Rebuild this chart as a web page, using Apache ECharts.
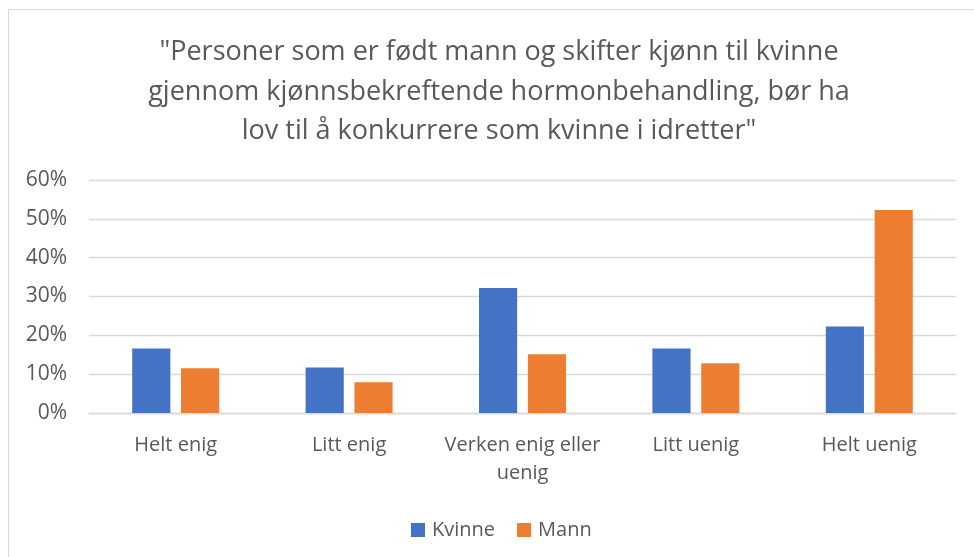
<!DOCTYPE html>
<html><head><meta charset="utf-8">
<script src="https://cdn.jsdelivr.net/npm/echarts@6/dist/echarts.min.js"></script>
<style>html,body{margin:0;padding:0;background:#fff}#c{width:974px;height:557px}</style>
</head><body><div id="c"></div>
<script>
const categories = ["Helt enig", "Litt enig", "Verken enig eller\nuenig", "Litt uenig", "Helt uenig"];
const kvinne = [0.166, 0.117, 0.322, 0.166, 0.223];
const mann = [0.115, 0.079, 0.151, 0.128, 0.523];
const seriesNames = ["Kvinne", "Mann"];
const titleText = "\"Personer som er født mann og skifter kjønn til kvinne\ngjennom kjønnsbekreftende hormonbehandling, bør ha\nlov til å konkurrere som kvinne i idretter\"";
const FONT = "Open Sans";
const chart = echarts.init(document.getElementById('c'), null, {renderer: 'canvas'});
chart.setOption({
  animation: false,
  backgroundColor: '#fff',
  graphic: [{type: 'rect', shape: {x: 8.5, y: 9.5, width: 1000, height: 1000}, style: {fill: 'none', stroke: '#d9d9d9', lineWidth: 1}, silent: true}],
  title: {
    text: titleText, left: 494, top: 28, textAlign: 'center',
    textStyle: {fontFamily: FONT, fontSize: 27, fontWeight: 'normal', color: '#595959', lineHeight: 39.5}
  },
  legend: {
    data: seriesNames, top: 515, left: 406, itemWidth: 14, itemHeight: 14, itemGap: 22,
    icon: 'rect',
    textStyle: {fontFamily: FONT, fontSize: 20, color: '#595959', padding: [0, 0, 0, 2]}
  },
  grid: {left: 89, right: 18, top: 180, bottom: 144, containLabel: false},
  xAxis: {
    type: 'category', data: categories,
    axisLine: {lineStyle: {color: '#d9d9d9', width: 1.3}},
    axisTick: {show: false},
    axisLabel: {fontFamily: FONT, fontSize: 20, color: '#595959', margin: 18, lineHeight: 28, interval: 0}
  },
  yAxis: {
    type: 'value', min: 0, max: 0.6, interval: 0.1,
    axisLine: {show: false}, axisTick: {show: false},
    splitLine: {lineStyle: {color: '#d9d9d9', width: 1.3}},
    axisLabel: {fontFamily: FONT, fontSize: 21, color: '#595959', margin: 22,
      formatter: v => Math.round(v * 100) + '%'}
  },
  series: [
    {name: seriesNames[0], type: 'bar', data: kvinne, barWidth: '22%', barGap: '28%', itemStyle: {color: '#4472C4'}},
    {name: seriesNames[1], type: 'bar', data: mann, barWidth: '22%', barGap: '28%', itemStyle: {color: '#ED7D31'}}
  ]
});
</script></body></html>
